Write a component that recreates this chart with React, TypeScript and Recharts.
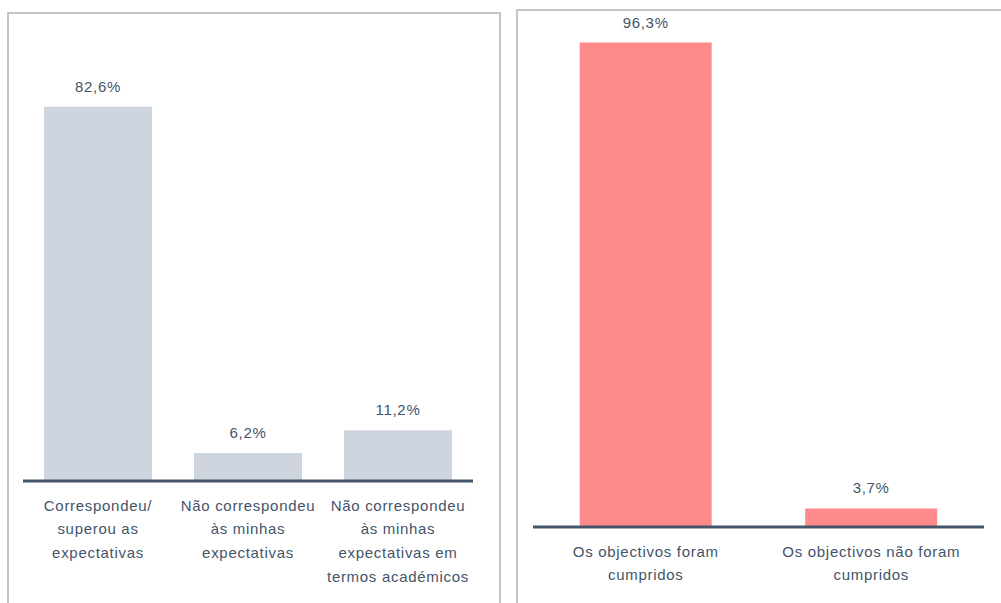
import { BarChart, Bar, XAxis, YAxis, LabelList } from 'recharts';

const expectCategories = [
    'Correspondeu/\nsuperou as\nexpectativas',
    'Não correspondeu\nàs minhas\nexpectativas',
    'Não correspondeu\nàs minhas\nexpectativas em\ntermos académicos',
];
const expectValues = [82.6, 6.2, 11.2];

const goalCategories = ['Os objectivos foram\ncumpridos', 'Os objectivos não foram\ncumpridos'];
const goalValues = [96.3, 3.7];

const TEXT = '#44546A';
const AXIS = '#44546A';
const BORDER = '#c6c6c6';

const expectData = expectCategories.map((name, i) => ({ name, value: expectValues[i] }));
const goalData = goalCategories.map((name, i) => ({ name, value: goalValues[i] }));

const fmt = (v: any) => `${Number(v).toFixed(1).replace('.', ',')}%`;

const MultiLineTick = ({ x, y, payload }: any) => {
    const lines = String(payload.value).split('\n');
    return (
        <text
            x={x}
            y={y}
            textAnchor="middle"
            fill={TEXT}
            style={{ fontSize: 15, letterSpacing: 0.7, fontFamily: 'Liberation Sans, Arial, sans-serif' }}
        >
            {lines.map((l, i) => (
                <tspan key={i} x={x} y={y + 29.5 + i * 23.7}>{l}</tspan>
            ))}
        </text>
    );
};

const labelStyle = { fontSize: 15, letterSpacing: 0.7, fill: TEXT, fontFamily: 'Liberation Sans, Arial, sans-serif' };

export default function App() {
    return (
        <div style={{ position: 'fixed', left: 0, top: 0, width: 1001, height: 603, background: '#fff', overflow: 'hidden' }}>
            <div style={{
                position: 'absolute', left: 7, top: 12, width: 494, height: 700, boxSizing: 'border-box',
                borderLeft: `2px solid ${BORDER}`, borderTop: `2px solid ${BORDER}`, borderRight: `2px solid ${BORDER}`,
            }} />
            <div style={{
                position: 'absolute', left: 516, top: 9, width: 600, height: 700, boxSizing: 'border-box',
                borderLeft: `2px solid ${BORDER}`, borderTop: `2px solid ${BORDER}`,
            }} />

            <div style={{ position: 'absolute', left: 0, top: 0 }}>
                <BarChart width={500} height={603} data={expectData}
                    margin={{ top: 28, right: 27, left: 23, bottom: 22 }} barCategoryGap="14%">
                    <YAxis hide domain={[0, 100]} />
                    <XAxis
                        dataKey="name"
                        height={100}
                        tickLine={false}
                        tickSize={0}
                        tickMargin={0}
                        interval={0}
                        axisLine={{ stroke: AXIS, strokeWidth: 3 }}
                        tick={<MultiLineTick />}
                    />
                    <Bar dataKey="value" fill="#cfd5df" isAnimationActive={false}>
                        <LabelList dataKey="value" position="top" offset={15} formatter={fmt} style={labelStyle} />
                    </Bar>
                </BarChart>
            </div>

            <div style={{ position: 'absolute', left: 500, top: 0 }}>
                <BarChart width={501} height={603} data={goalData}
                    margin={{ top: 24, right: 17, left: 33, bottom: 16 }} barCategoryGap="20.7%">
                    <YAxis hide domain={[0, 100]} />
                    <XAxis
                        dataKey="name"
                        height={60}
                        tickLine={false}
                        tickSize={0}
                        tickMargin={0}
                        interval={0}
                        axisLine={{ stroke: AXIS, strokeWidth: 3 }}
                        tick={<MultiLineTick />}
                    />
                    <Bar dataKey="value" fill="#ff8a8a" isAnimationActive={false}>
                        <LabelList dataKey="value" position="top" offset={15} formatter={fmt} style={labelStyle} />
                    </Bar>
                </BarChart>
            </div>
        </div>
    );
}
